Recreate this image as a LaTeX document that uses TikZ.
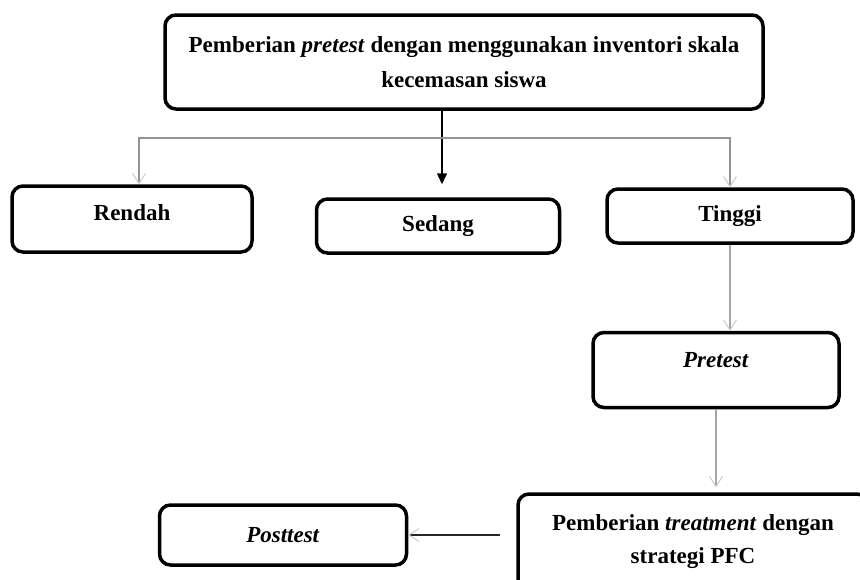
\documentclass[tikz,border=0pt]{standalone}
\usepackage{fontspec}
\setmainfont{Liberation Serif}
\usetikzlibrary{arrows.meta}

\begin{document}
\begin{tikzpicture}[x=1pt,y=-1pt,
      every node/.style={font=\fontsize{23}{33}\selectfont\bfseries},
      box/.style={draw,line width=3.5pt,rounded corners=11pt,align=center,inner sep=0pt},
      branch/.style={draw=gray!70,line width=1.3pt},
      barb/.style={-{Straight Barb[length=10pt,width=13pt,line width=0.9pt,color=gray!45]}}]
      \clip (0,0) rectangle (860,579);
      \node[box, minimum width=598pt, minimum height=94pt,
        font=\fontsize{23}{35}\selectfont\bfseries] (survey) at (464,62)
        {Pemberian \textit{pretest} dengan menggunakan inventori skala\\kecemasan siswa};
      \node[box, minimum width=240pt, minimum height=66pt] (rendah) at (132,219) {\raisebox{12pt}{Rendah}};
      \node[box, minimum width=243pt, minimum height=54pt] (sedang) at (438,226) {Sedang};
      \node[box, minimum width=246pt, minimum height=54pt] (tinggi) at (730,216) {Tinggi};
      \node[box, minimum width=246pt, minimum height=75pt] (pretest) at (716,370) {\raisebox{20pt}{\textit{Pretest}}};
      \node[box, minimum width=350pt, minimum height=96pt] (treatment) at (693,542)
        {Pemberian \textit{treatment} dengan\\strategi PFC};
      \node[box, minimum width=247pt, minimum height=60pt] (posttest) at (283,535) {\textit{Posttest}};
      \coordinate (hub) at (730,138);
      % split towards the three groups
      \draw[line width=1.5pt, -{Triangle[length=11pt,width=10pt]}, shorten >=13pt]
        (survey.south -| 442,0) -- (sedang.north -| 442,0);
      \draw[branch, draw=gray!85, {Straight Barb[length=10pt,width=13pt,line width=0.9pt,color=gray!45]}-{Straight Barb[length=10pt,width=13pt,line width=0.9pt,color=gray!45]}]
        ([xshift=7pt]rendah.north) |- (hub) -- (tinggi.north);
      % treatment path
      \draw[branch, barb] (tinggi.south) -- (tinggi.south |- pretest.north);
      \draw[branch, barb, shorten >=5pt] (pretest.south) -- (pretest.south |- treatment.north);
      \draw[draw=black!85, line width=1.2pt, barb, shorten <=16pt] (treatment.west |- posttest.east) -- (posttest.east);
    \end{tikzpicture}
\end{document}
